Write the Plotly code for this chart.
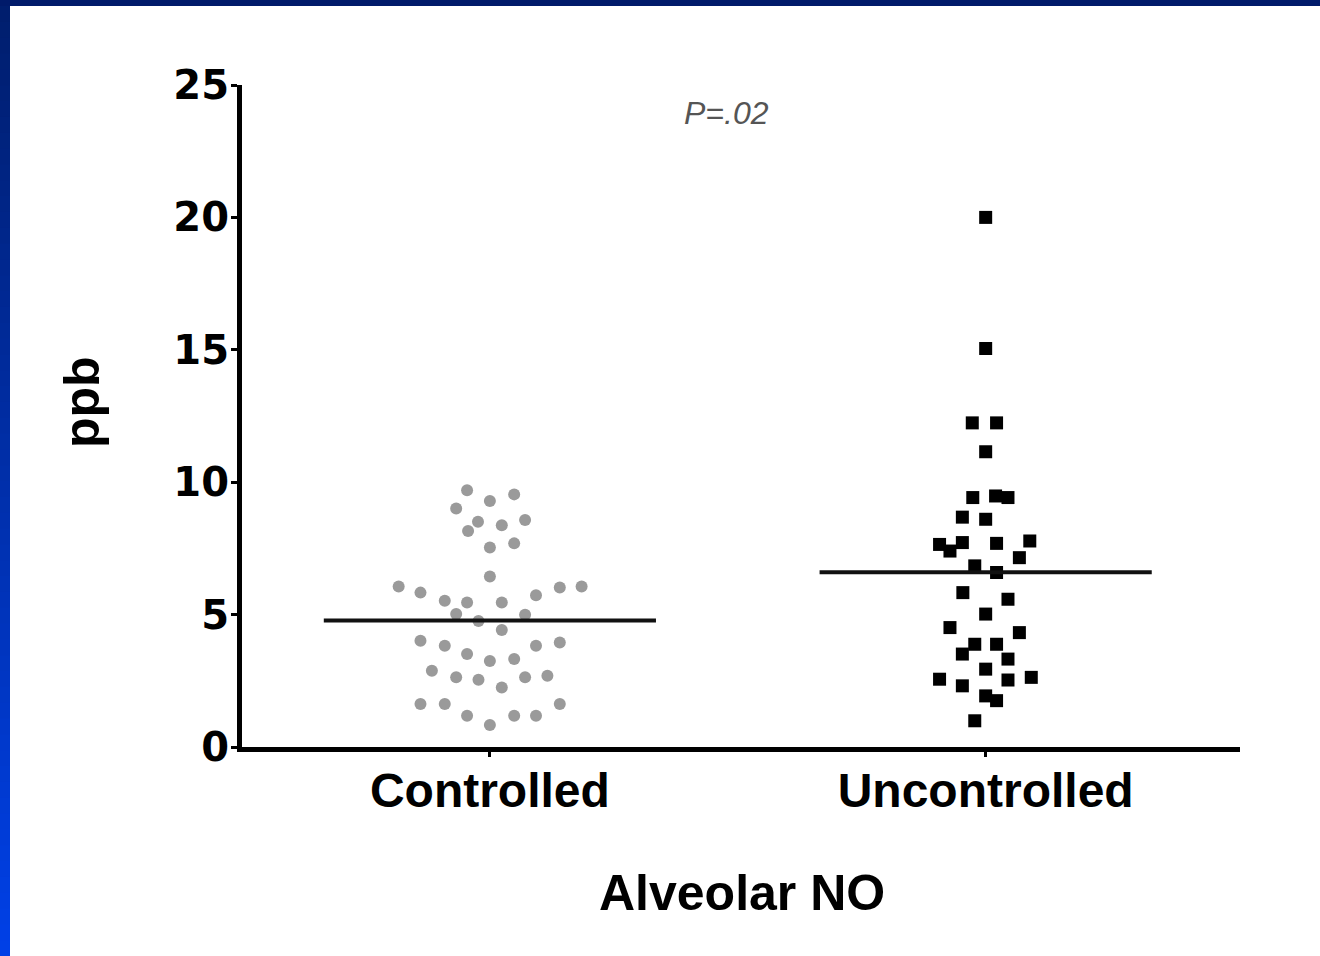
import plotly.graph_objects as go

# ---------------- data ----------------
categories = ["Controlled", "Uncontrolled"]
y_ticks = [0, 5, 10, 15, 20, 25]

controlled_values = [9.70, 9.29, 9.54, 9.01, 8.51, 8.16, 8.37, 8.57, 7.53, 7.69,
                     6.44, 6.06, 5.83, 5.52, 5.46, 5.46, 5.73, 6.02, 6.06, 5.02,
                     4.76, 4.99, 4.42, 4.01, 3.82, 3.51, 3.25, 3.32, 3.82, 3.95,
                     2.88, 2.63, 2.54, 2.25, 2.63, 2.69, 1.62, 1.62, 1.18, 0.83,
                     1.18, 1.18, 1.62]
controlled_jitter = [-0.046, 0.0, 0.049, -0.068, -0.024, -0.044, 0.024, 0.071, 0.0, 0.049,
                     0.0, -0.184, -0.140, -0.091, -0.046, 0.024, 0.093, 0.141, 0.185, -0.068,
                     -0.023, 0.071, 0.024, -0.140, -0.091, -0.046, 0.0, 0.049, 0.093, 0.141,
                     -0.117, -0.068, -0.023, 0.024, 0.071, 0.116, -0.140, -0.091, -0.046, 0.0,
                     0.049, 0.093, 0.141]

uncontrolled_values = [20.0, 15.05, 12.24, 12.24, 11.15, 9.42, 9.48, 9.42, 8.68, 8.60,
                       7.65, 7.72, 7.40, 7.69, 7.78, 7.15, 6.84, 6.59, 5.83, 5.58,
                       5.02, 4.51, 4.32, 3.88, 3.88, 3.51, 3.32, 2.94, 2.56, 2.31,
                       2.53, 2.63, 1.93, 1.75, 0.99]
uncontrolled_jitter = [0.0, 0.0, -0.027, 0.022, 0.0, -0.026, 0.020, 0.045, -0.047, 0.0,
                       -0.093, -0.047, -0.072, 0.022, 0.089, 0.068, -0.022, 0.022, -0.046, 0.045,
                       0.0, -0.072, 0.068, -0.022, 0.022, -0.047, 0.045, 0.0, -0.093, -0.047,
                       0.045, 0.092, 0.0, 0.022, -0.022]

group_means = [4.78, 6.6]
p_value_text = "P=.02"

# ---------------- layout geometry (pixels) ----------------
W, H = 1320, 956
L, R, T, B = 242, 1240, 85, 747
PW, PH = R - L, B - T


def px(x):
    return (x - L) / PW


def py(y):
    return (B - y) / PH


fig = go.Figure()

fig.add_trace(go.Scatter(
    x=[0 + j for j in controlled_jitter], y=controlled_values,
    mode="markers",
    marker=dict(symbol="circle", size=12, color="#9a9a9a", line=dict(width=0)),
    showlegend=False, hoverinfo="y"))

fig.add_trace(go.Scatter(
    x=[1 + j for j in uncontrolled_jitter], y=uncontrolled_values,
    mode="markers",
    marker=dict(symbol="square", size=13, color="#000000", line=dict(width=0)),
    showlegend=False, hoverinfo="y"))

half = 0.335
for i, m in enumerate(group_means):
    fig.add_trace(go.Scatter(
        x=[i - half, i + half], y=[m, m], mode="lines",
        line=dict(color="#111111", width=4), showlegend=False, hoverinfo="skip"))

# ---------------- frame decoration (blue slide border) ----------------
shapes = []
shapes.append(dict(type="rect", xref="paper", yref="paper",
                   x0=px(-5), x1=px(W + 5), y0=py(6), y1=py(-5),
                   fillcolor="#001a6a", line=dict(width=0), layer="above"))
N = 60
c0 = (0x00, 0x1e, 0x6e)
c1 = (0x00, 0x40, 0xe6)
for k in range(N):
    t = k / (N - 1)
    col = "rgb(%d,%d,%d)" % tuple(round(a + (b - a) * t) for a, b in zip(c0, c1))
    shapes.append(dict(type="rect", xref="paper", yref="paper",
                       x0=px(-5), x1=px(10),
                       y0=py(6 + (H - 6) * (k + 1) / N + 1), y1=py(6 + (H - 6) * k / N),
                       fillcolor=col, line=dict(width=0), layer="above"))

annotations = [
    dict(text="ppb", xref="paper", yref="paper", x=px(82), y=py(402),
         textangle=-90, showarrow=False, xanchor="center", yanchor="middle",
         font=dict(family="Liberation Sans", size=50, color="#000000", weight="bold")),
    dict(text="Alveolar NO", xref="paper", yref="paper", x=px(742), y=py(893),
         showarrow=False, xanchor="center", yanchor="middle",
         font=dict(family="Liberation Sans", size=50, color="#000000", weight="bold")),
    dict(text="<i>" + p_value_text + "</i>", xref="paper", yref="paper", x=px(726), y=py(113),
         showarrow=False, xanchor="center", yanchor="middle",
         font=dict(family="Liberation Sans", size=32, color="#555555")),
]

fig.update_layout(
    width=W, height=H,
    margin=dict(l=L, r=W - R, t=T, b=H - B, pad=0),
    paper_bgcolor="white", plot_bgcolor="white",
    shapes=shapes, annotations=annotations,
    xaxis=dict(range=[-0.5, 1.513], tickmode="array", tickvals=[0, 1], ticktext=categories,
               showgrid=False, zeroline=False, showline=True, linecolor="#000000", linewidth=5,
               ticks="outside", ticklen=5, tickwidth=3, tickcolor="#000000",
               ticklabelstandoff=-8,
               tickfont=dict(family="Liberation Sans", size=48, color="#000000", weight="bold"),
               fixedrange=True),
    yaxis=dict(range=[0, 25], tickmode="array", tickvals=y_ticks, ticktext=[str(v) for v in y_ticks],
               showgrid=False, zeroline=False, showline=True, linecolor="#000000", linewidth=5,
               ticks="outside", ticklen=6, tickwidth=3, tickcolor="#000000",
               ticklabelstandoff=-6,
               tickfont=dict(family="DejaVu Sans", size=40, color="#000000", weight="bold"),
               fixedrange=True),
)

fig.write_html(
    "out.html",
    config={"displayModeBar": False},
    post_script="document.body.style.margin='0';document.body.style.padding='0';"
                "document.body.style.overflow='hidden';",
)
